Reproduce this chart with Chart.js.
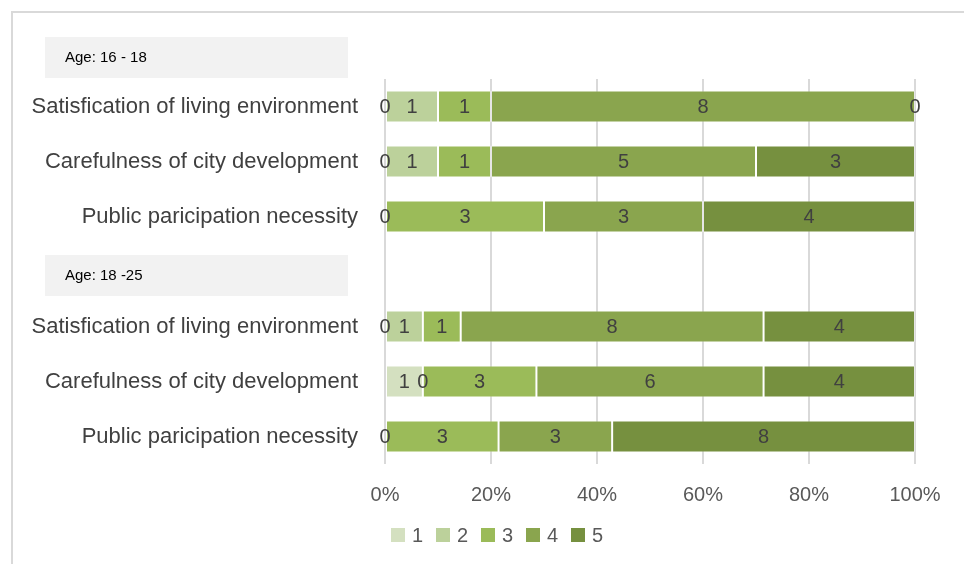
<!DOCTYPE html>
<html>
<head>
<meta charset="utf-8">
<script src="https://cdn.jsdelivr.net/npm/chart.js@4/dist/chart.umd.min.js"></script>
<style>
  html, body { margin: 0; padding: 0; background: #ffffff; }
  #wrap { position: relative; width: 964px; height: 564px; overflow: hidden; }
  #frame { position: absolute; left: 11px; top: 11px; width: 1000px; height: 1000px; border-left: 2px solid #d9d9d9; border-top: 2px solid #d9d9d9; box-sizing: border-box; }
  canvas { position: absolute; left: 0; top: 0; }
</style>
</head>
<body>
<div id="wrap">
  <div id="frame"></div>
  <canvas id="c" width="964" height="564"></canvas>
</div>
<script>
// Categories (row order top to bottom); empty string = spacer row for group header
const categories = [
  'Satisfication of living environment',
  'Carefulness of city development',
  'Public paricipation necessity',
  '',
  'Satisfication of living environment',
  'Carefulness of city development',
  'Public paricipation necessity'
];
const groupLabels = ['Age: 16 - 18', 'Age: 18 -25'];
const seriesNames = ['1', '2', '3', '4', '5'];

// Counts of answers per score (null = no entry)
const score1 = [0, 0, 0,    null, 0, 1, 0];
const score2 = [1, 1, null, null, 1, 0, null];
const score3 = [1, 1, 3,    null, 1, 3, 3];
const score4 = [8, 5, 3,    null, 8, 6, 3];
const score5 = [0, 3, 4,    null, 4, 4, 8];

const xTicks = [0, 20, 40, 60, 80, 100];

const colors = ['#d4e0c0', '#bcd19b', '#9bbb59', '#8aa54e', '#76903f'];
const FONT = '"Liberation Sans", Arial, sans-serif';

const series = [score1, score2, score3, score4, score5];
const totals = categories.map((_, i) => series.reduce((s, arr) => s + (arr[i] || 0), 0));

const datasets = series.map((arr, k) => ({
  label: seriesNames[k],
  data: arr.map((v, i) => v === null ? null : (totals[i] ? v / totals[i] * 100 : 0)),
  counts: arr,
  backgroundColor: colors[k],
  borderColor: 'rgba(255,255,255,0.35)',
  borderWidth: 1,
  borderSkipped: false,
  barPercentage: 1.0,
  categoryPercentage: 0.58
}));

const labelPlugin = {
  id: 'valueLabels',
  afterDatasetsDraw(chart) {
    const ctx = chart.ctx;
    ctx.save();
    ctx.font = '20px ' + FONT;
    ctx.fillStyle = '#404040';
    ctx.textAlign = 'center';
    ctx.textBaseline = 'middle';
    chart.data.datasets.forEach((ds, di) => {
      const meta = chart.getDatasetMeta(di);
      meta.data.forEach((el, i) => {
        const c = ds.counts[i];
        if (c === null || c === undefined) return;
        const cx = (el.x + el.base) / 2;
        ctx.fillText(String(c), cx, el.y + 1);
      });
    });
    ctx.restore();
  }
};

const groupPlugin = {
  id: 'groupBoxes',
  afterDraw(chart) {
    const ctx = chart.ctx;
    const y = chart.scales.y;
    const step = y.getPixelForValue(1) - y.getPixelForValue(0);
    const centers = [y.getPixelForValue(0) - step + 6, y.getPixelForValue(3) + 4];
    ctx.save();
    centers.forEach((cy, g) => {
      ctx.fillStyle = '#f2f2f2';
      ctx.fillRect(45, cy - 20.5, 303, 41);
      ctx.fillStyle = '#000000';
      ctx.font = '15px ' + FONT;
      ctx.textAlign = 'left';
      ctx.textBaseline = 'middle';
      ctx.fillText(groupLabels[g], 65, cy);
    });
    ctx.restore();
  }
};

// Custom legend (centered under the chart like the original)
const legendPlugin = {
  id: 'customLegend',
  afterDraw(chart) {
    const ctx = chart.ctx;
    const ds = chart.data.datasets;
    const step = 45, box = 14;
    const startX = 391, cy = 535;
    ctx.save();
    ctx.font = '20px ' + FONT;
    ctx.textAlign = 'left';
    ctx.textBaseline = 'middle';
    ds.forEach((d, i) => {
      const x = startX + i * step;
      ctx.fillStyle = d.backgroundColor;
      ctx.fillRect(x, cy - box / 2, box, box);
      ctx.fillStyle = '#595959';
      ctx.fillText(d.label, x + box + 7, cy + 1);
    });
    ctx.restore();
  }
};

new Chart(document.getElementById('c'), {
  type: 'bar',
  data: { labels: categories, datasets },
  plugins: [labelPlugin, groupPlugin, legendPlugin],
  options: {
    indexAxis: 'y',
    responsive: false,
    animation: false,
    layout: { padding: { top: 79, left: 0, right: 49, bottom: 38 } },
    scales: {
      x: {
        stacked: true,
        min: 0, max: 100,
        afterBuildTicks(scale) { scale.ticks = xTicks.map(v => ({ value: v })); },
        ticks: {
          callback: v => v + '%',
          color: '#595959',
          font: { size: 20, family: FONT },
          padding: 19
        },
        grid: { color: '#d9d9d9', lineWidth: 2, drawTicks: false },
        border: { display: false }
      },
      y: {
        stacked: true,
        afterFit(scale) { scale.width = 385; },
        ticks: {
          color: '#404040',
          font: { size: 22, family: FONT },
          padding: 19
        },
        grid: { display: false },
        border: { display: false }
      }
    },
    plugins: {
      tooltip: { enabled: false },
      legend: { display: false }
    }
  }
});
</script>
</body>
</html>
